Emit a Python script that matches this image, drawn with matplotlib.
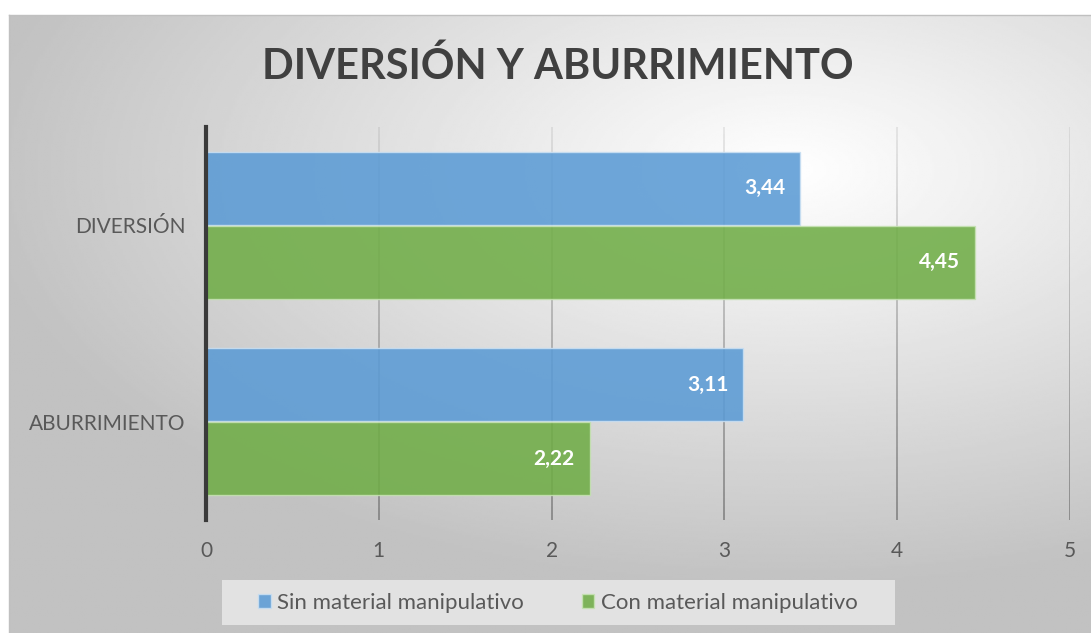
import matplotlib.pyplot as plt
import numpy as np
from matplotlib.collections import LineCollection
from matplotlib.patches import Rectangle

categorias = ["ABURRIMIENTO", "DIVERSIÓN"]
sin_material = [3.11, 3.44]
con_material = [2.22, 4.45]
series = ["Sin material manipulativo", "Con material manipulativo"]
ticks_x = [0, 1, 2, 3, 4, 5]

plt.rcParams['font.family'] = ['Lato', 'DejaVu Sans']

fig = plt.figure(figsize=(10.91, 6.33), dpi=100)
fig.patch.set_facecolor('white')

# fondo con degradado radial
bg = fig.add_axes([9/1091, 0, 1 - 9/1091, 1 - 15/633])
yy, xx = np.mgrid[0:1:300j, 0:1:500j]
r = np.sqrt(((xx - 0.72) / 1.0) ** 2 + ((yy - 0.25) / 0.9) ** 2)
g = np.clip(1.0 - 0.32 * r, 0.76, 1.0)
bg.imshow(g, cmap='gray', vmin=0, vmax=1, aspect='auto', extent=[0, 1, 1, 0])
bg.set_axis_off()
# borde del área del gráfico
fig.add_artist(plt.Line2D([9/1091, 1], [1 - 15/633, 1 - 15/633], color='#c0c0c0', lw=1))
fig.add_artist(plt.Line2D([9/1091, 9/1091], [0, 1 - 15/633], color='#c0c0c0', lw=1))

ax = fig.add_axes([206/1091, 1 - 520/633, (1070 - 206)/1091, (520 - 127)/633])
ax.patch.set_alpha(0)

y = np.arange(len(categorias))
h = 0.37
b1 = ax.barh(y + 0.188, sin_material, height=h, color='#5b9bd5', alpha=0.88,
             edgecolor='#c9dff2', linewidth=1, label=series[0], zorder=3)
b2 = ax.barh(y - 0.188, con_material, height=h, color='#70ad47', alpha=0.88,
             edgecolor='#c6e2b3', linewidth=1, label=series[1], zorder=3)

for bars, vals in [(b1, sin_material), (b2, con_material)]:
    for bar, v in zip(bars, vals):
        ax.annotate(f"{v:.2f}".replace('.', ','),
                    (bar.get_width(), bar.get_y() + bar.get_height() / 2),
                    xytext=(-11, 0), textcoords='offset points',
                    ha='right', va='center', color='white',
                    fontsize=15, fontweight='bold', zorder=4)

ax.set_xlim(0, 5)
ax.set_ylim(-0.5, 1.5)
ax.set_xticks(ticks_x)
ax.set_yticks(y)
ax.set_yticklabels(categorias)
ax.tick_params(axis='both', length=0, colors='#595959', labelsize=15)
ax.tick_params(axis='x', pad=15)
ax.tick_params(axis='y', pad=15)

# líneas de división con degradado
for t in ticks_x[1:]:
    ys = np.linspace(-0.5, 1.5, 60)
    segs = [[(t, ys[i]), (t, ys[i + 1])] for i in range(len(ys) - 1)]
    cols = [(0.45, 0.45, 0.45, a) for a in np.linspace(0.75, 0.15, len(segs))]
    ax.add_collection(LineCollection(segs, colors=cols, linewidths=1.3, zorder=2))

for s in ['top', 'right', 'bottom']:
    ax.spines[s].set_visible(False)
ax.spines['left'].set_color('#3a3a3a')
ax.spines['left'].set_linewidth(3)
ax.spines['left'].set_zorder(5)

fig.text(558/1091, 1 - 66/633, "DIVERSIÓN Y ABURRIMIENTO", ha='center', va='center',
         fontsize=30, fontweight='bold', color='#404040')

# caja de la leyenda
fig.add_artist(Rectangle((222/1091, 1 - 625/633), 673/1091, 45/633,
                         transform=fig.transFigure, facecolor='#e6e6e6',
                         edgecolor='none', alpha=0.9))
leg = fig.legend(handles=[b1, b2], labels=series, loc='center',
                 bbox_to_anchor=(558/1091, 1 - 603/633), ncol=2, fontsize=16,
                 frameon=False, handlelength=0.55, handleheight=0.6,
                 handletextpad=0.3, columnspacing=2.6)
for txt in leg.get_texts():
    txt.set_color('#595959')

fig.savefig('out.png', dpi=100)
